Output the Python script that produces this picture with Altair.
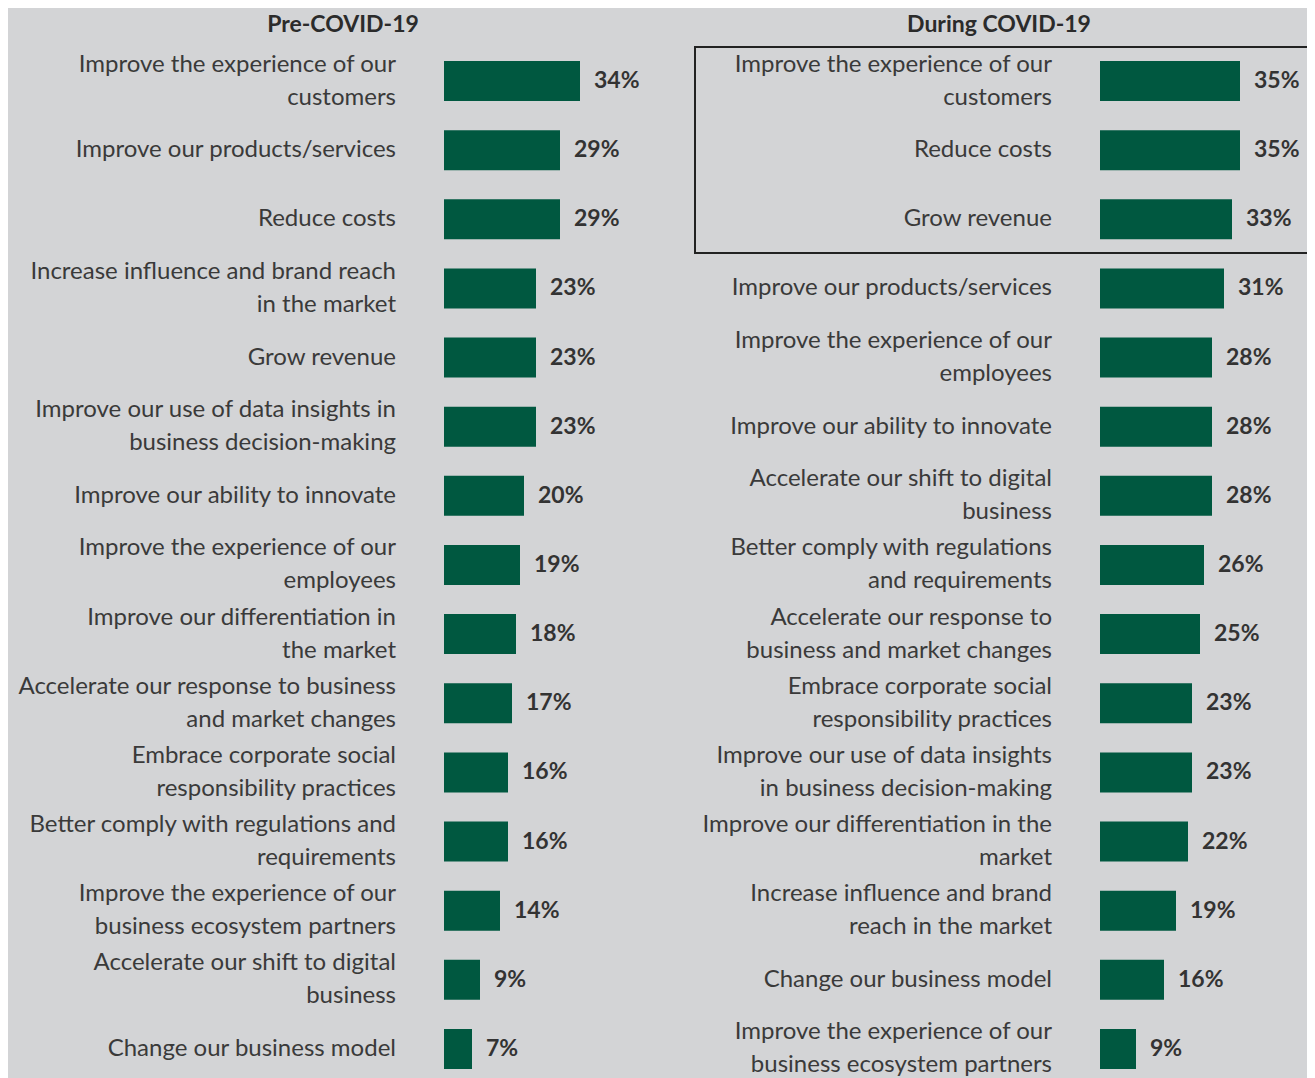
import altair as alt
import pandas as pd

pre_labels = [
    "Improve the experience of our\ncustomers",
    "Improve our products/services",
    "Reduce costs",
    "Increase influence and brand reach\nin the market",
    "Grow revenue",
    "Improve our use of data insights in\nbusiness decision-making",
    "Improve our ability to innovate",
    "Improve the experience of our\nemployees",
    "Improve our differentiation in\nthe market",
    "Accelerate our response to business\nand market changes",
    "Embrace corporate social\nresponsibility practices",
    "Better comply with regulations and\nrequirements",
    "Improve the experience of our\nbusiness ecosystem partners",
    "Accelerate our shift to digital\nbusiness",
    "Change our business model",
]
pre_values = [34, 29, 29, 23, 23, 23, 20, 19, 18, 17, 16, 16, 14, 9, 7]

during_labels = [
    "Improve the experience of our\ncustomers",
    "Reduce costs",
    "Grow revenue",
    "Improve our products/services",
    "Improve the experience of our\nemployees",
    "Improve our ability to innovate",
    "Accelerate our shift to digital\nbusiness",
    "Better comply with regulations\nand requirements",
    "Accelerate our response to\nbusiness and market changes",
    "Embrace corporate social\nresponsibility practices",
    "Improve our use of data insights\nin business decision-making",
    "Improve our differentiation in the\nmarket",
    "Increase influence and brand\nreach in the market",
    "Change our business model",
    "Improve the experience of our\nbusiness ecosystem partners",
]
during_values = [35, 35, 33, 31, 28, 28, 28, 26, 25, 23, 23, 22, 19, 16, 9]

panel_titles = ["Pre-COVID-19", "During COVID-19"]

pre_df = pd.DataFrame({"row": list(range(len(pre_labels))), "label": pre_labels, "value": pre_values})
dur_df = pd.DataFrame({"row": list(range(len(during_labels))), "label": during_labels, "value": during_values})

W, H = 1299, 1070
BG = "#d3d4d6"
GREEN = "#005840"
FONT = "Lato"
LH = 33

yscale = alt.Scale(paddingInner=0.4215, paddingOuter=0.4487, align=0.8543)


def panel(df, domain, label_x):
    xs = alt.Scale(domain=domain, zero=False, nice=False)
    base = alt.Chart(df)
    y = alt.Y("row:O", axis=None, scale=yscale)
    bars = base.mark_bar(color=GREEN).encode(
        y=y,
        x=alt.X("value:Q", axis=None, scale=xs),
        x2=alt.datum(0),
    )
    vals = base.transform_calculate(t="datum.value + '%'").mark_text(
        align="left", baseline="middle", dx=14, font=FONT, fontSize=23,
        fontWeight="bold", color="#333333"
    ).encode(
        y=y,
        x=alt.X("value:Q", axis=None, scale=xs),
        text="t:N",
    )
    text_style = dict(align="right", baseline="middle", lineBreak="\n", lineHeight=LH,
                      font=FONT, fontSize=24, color="#3a3a3a")
    one = base.transform_filter("indexof(datum.label, '\\n') < 0").mark_text(**text_style).encode(
        y=y, x=alt.value(label_x), text="label:N",
    )
    two = base.transform_filter("indexof(datum.label, '\\n') >= 0").mark_text(
        dy=-LH / 2, **text_style).encode(
        y=y, x=alt.value(label_x), text="label:N",
    )
    return [bars, vals, one, two]


titles = alt.Chart(pd.DataFrame({"t": panel_titles, "px": [335, 991]})).mark_text(
    align="center", baseline="middle", font=FONT, fontSize=23, fontWeight="bold", color="#2b2b2b"
).encode(x=alt.X("px:Q", scale=alt.Scale(domain=[0, W], nice=False, zero=False), axis=None),
         y=alt.value(17), text="t:N")

box = alt.Chart(pd.DataFrame({"a": [0]})).mark_rect(
    fill=None, stroke="#222222", strokeWidth=2
).encode(x=alt.value(687), x2=alt.value(W + 10), y=alt.value(39), y2=alt.value(245))

layers = panel(pre_df, [-109, 215.75], 388) + panel(dur_df, [-273, 51.75], 1044) + [titles, box]

chart = alt.layer(*layers).resolve_scale(x="independent").properties(
    width=W, height=H, background=BG, padding=0,
    autosize=alt.AutoSizeParams(type="none"),
).configure_view(stroke=None)

chart.save("out.html", embed_options={"renderer": "svg", "actions": False})
